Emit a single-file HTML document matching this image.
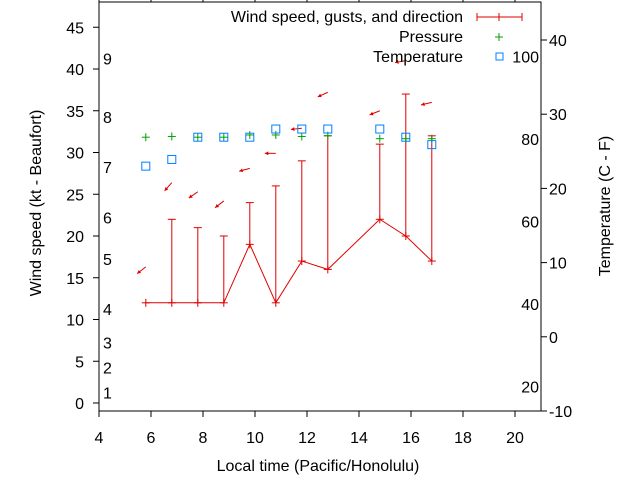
<!DOCTYPE html>
<html><head><meta charset="utf-8"><style>
body{margin:0;background:#fff}
svg text{font-family:"Liberation Sans",sans-serif;font-size:16px;fill:#000}
</style></head><body>
<svg id="chart" width="640" height="480" xmlns="http://www.w3.org/2000/svg">
<g id="g"></g>
</svg>
<script>
const times=[5.8,6.8,7.8,8.8,9.8,10.8,11.8,12.8,14.8,15.8,16.8];
const windSpeed=[12,12,12,12,19,12,17,16,22,20,17];
const windGust=[12,22,21,20,24,26,29,32,31,37,32];
const arrowKt=[16.3,26.4,25.3,24.2,28.1,29.9,32.9,37.2,35.0,41.0,36.0];
const arrowDir=[38,49,35,38,15,0,6,24,22,10,13];
const pressure=[26.9,27,26.9,26.9,27.2,27.2,27,27.1,26.7,26.7,26.7];
const tempC=[23,23.9,26.9,26.9,26.9,28,28,28,28,26.9,25.9];
const xTicks=[4,6,8,10,12,14,16,18,20];
const yTicks=[0,5,10,15,20,25,30,35,40,45];
const cTicks=[-10,0,10,20,30,40];
const fTicks=[20,40,60,80,100];
const bft=[[1,1],[2,4],[3,7],[4,11],[5,17],[6,22],[7,28],[8,34],[9,41]];
const L=99,R=541,T=2,B=411;
const X=v=>L+(v-4)*(R-L)/17;
const Y=v=>403-v*8.35;
const YC=c=>411-(c+10)*7.42;
const g=document.getElementById('g');const NS='http://www.w3.org/2000/svg';
function el(t,a,txt){const e=document.createElementNS(NS,t);for(const k in a)e.setAttribute(k,a[k]);if(txt!==undefined)e.textContent=txt;g.appendChild(e);return e;}
function ln(x1,y1,x2,y2,c,n){const e=el('line',{x1,y1,x2,y2,stroke:c,'stroke-width':1});return e;}
function tx(x,y,s,anc,n){const e=el('text',{x,y,'text-anchor':anc},s);return e;}
const fr=el('rect',{x:L,y:T,width:R-L,height:B-T,fill:'none',stroke:'#000'});


xTicks.forEach(v=>{ln(X(v),B,X(v),B+6,'#000','x-tick');ln(X(v),T,X(v),T-6,'#000','x-tick-top');tx(X(v),443,v,'middle','x-tick-label');});
yTicks.forEach(v=>{ln(L-6,Y(v),L,Y(v),'#000','y-tick');tx(84,Y(v)+6,v,'end','y-tick-label');});
cTicks.forEach(v=>{ln(R,YC(v),R+6,YC(v),'#000','c-tick');tx(549,YC(v)+6,v,'start','c-tick-label');});
fTicks.forEach(v=>{tx(539,YC((v-32)*5/9)+6,v,'end','f-tick-label');});
bft.forEach(b=>{tx(103,Y(b[1])+4,b[0],'start','beaufort-label');});
const red='#e00000';
times.forEach((t,i)=>{const x=X(t);
 if(windGust[i]>windSpeed[i]){ln(x,Y(windSpeed[i]),x,Y(windGust[i]),red,'gust-bar');ln(x-4,Y(windGust[i]),x+4,Y(windGust[i]),red,'gust-cap');}
 ln(x-4,Y(windSpeed[i]),x+4,Y(windSpeed[i]),red,'speed-cap');
 ln(x,Y(windSpeed[i])-4,x,Y(windSpeed[i])+4,red,'speed-tick');
});
const pl=el('polyline',{points:times.map((t,i)=>X(t)+','+Y(windSpeed[i])).join(' '),fill:'none',stroke:red});


times.forEach((t,i)=>{const x=X(t),y=Y(arrowKt[i]);const a=arrowDir[i]*Math.PI/180;
 const hx=x-11*Math.cos(a),hy=y+11*Math.sin(a);
 ln(x,y,hx,hy,red,'direction-arrow');
 const ang=Math.atan2(hy-y,hx-x);
 const p=el('polygon',{points:[[hx,hy],[hx-4*Math.cos(ang-0.5),hy-4*Math.sin(ang-0.5)],[hx-4*Math.cos(ang+0.5),hy-4*Math.sin(ang+0.5)]].map(q=>q.join(',')).join(' '),fill:red});
 
 
});
const green='#00a000',blue='#0080ff';
times.forEach((t,i)=>{const x=X(t),y=YC(pressure[i]);ln(x-4,y,x+4,y,green,'pressure-point');ln(x,y-4,x,y+4,green,'pressure-point-v');});
times.forEach((t,i)=>{const r=el('rect',{x:X(t)-4,y:YC(tempC[i])-4,width:8,height:8,fill:'none',stroke:blue});});
tx(463,22,'Wind speed, gusts, and direction','end','legend-wind');
ln(477,17,522,17,red,'legend-wind-line');ln(477,13,477,21,red,'legend-cap');ln(522,13,522,21,red,'legend-cap');ln(499,13,499,21,red,'legend-cap');
tx(463,42,'Pressure','end','legend-pressure');
ln(495,37,503,37,green,'legend-pressure-mark');ln(499,33,499,41,green,'legend-pressure-mark');
tx(463,62,'Temperature','end','legend-temperature');
const lr=el('rect',{x:496,y:53,width:7,height:7,fill:'none',stroke:blue});


tx(318,471,'Local time (Pacific/Honolulu)','middle','x-axis-title');
const yt=tx(0,0,'Wind speed (kt - Beaufort)','middle','y-axis-title');yt.setAttribute('transform','translate(41,203) rotate(-90)');
const rt=tx(0,0,'Temperature (C - F)','middle','y2-axis-title');rt.setAttribute('transform','translate(610,206) rotate(-90)');
</script>
</body></html>
